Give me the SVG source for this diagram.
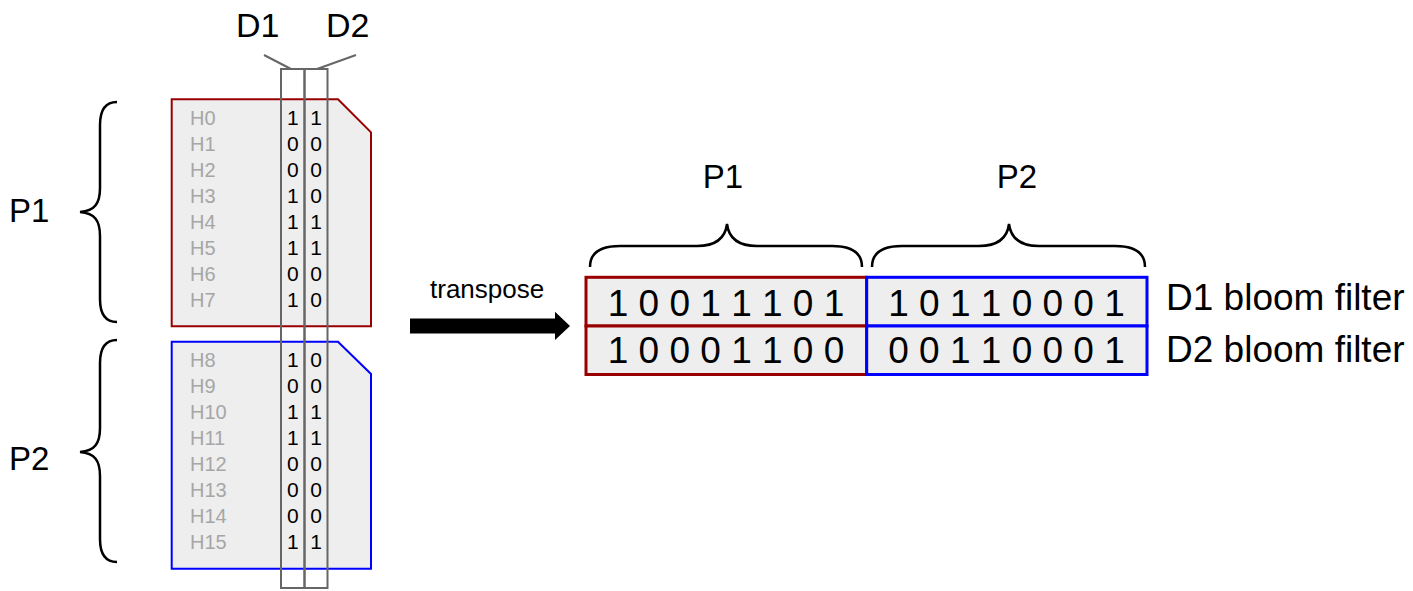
<svg xmlns="http://www.w3.org/2000/svg" width="1413" height="591" viewBox="0 0 1413 591">
<style>
text{font-family:"Liberation Sans",Arial,sans-serif;fill:#000}
.h{font-size:20px;fill:#a6a6a6}
.b{font-size:21px;text-anchor:middle}
.big{font-size:34px}
.mid{font-size:33px}
.bits{font-size:37px;text-anchor:middle}
.lab{font-size:37px}
.brace{fill:none;stroke:#000;stroke-width:2.5}
.col{fill:none;stroke:#666;stroke-width:2}
.lead{stroke:#666;stroke-width:2}
.red{fill:#eeeeee;stroke:#990000;stroke-width:2}
.blue{fill:#eeeeee;stroke:#0000ff;stroke-width:2}
.tred{fill:#eeeeee;stroke:#990000;stroke-width:3}
.tblue{fill:#eeeeee;stroke:#0000ff;stroke-width:3}
</style>
<rect width="1413" height="591" fill="#ffffff"/>

<g id="p1-block">
<polygon class="red" points="171.7,99.3 338,99.3 371,132.3 371,326.3 171.7,326.3"/>
<text class="h" x="190" y="125">H0</text>
<text class="h" x="190" y="151">H1</text>
<text class="h" x="190" y="177">H2</text>
<text class="h" x="190" y="203">H3</text>
<text class="h" x="190" y="229">H4</text>
<text class="h" x="190" y="255">H5</text>
<text class="h" x="190" y="281">H6</text>
<text class="h" x="190" y="307">H7</text>
</g>

<g id="p2-block">
<polygon class="blue" points="171.7,341.7 338,341.7 371,374 371,568.7 171.7,568.7"/>
<text class="h" x="190" y="367">H8</text>
<text class="h" x="190" y="393">H9</text>
<text class="h" x="190" y="419">H10</text>
<text class="h" x="190" y="445">H11</text>
<text class="h" x="190" y="471">H12</text>
<text class="h" x="190" y="497">H13</text>
<text class="h" x="190" y="523">H14</text>
<text class="h" x="190" y="549">H15</text>
</g>

<g id="d1-column">
<rect class="col" x="281" y="69" width="23.5" height="519"/>
<text class="b" x="292.8" y="125">1</text>
<text class="b" x="292.8" y="151">0</text>
<text class="b" x="292.8" y="177">0</text>
<text class="b" x="292.8" y="203">1</text>
<text class="b" x="292.8" y="229">1</text>
<text class="b" x="292.8" y="255">1</text>
<text class="b" x="292.8" y="281">0</text>
<text class="b" x="292.8" y="307">1</text>
<text class="b" x="292.8" y="367">1</text>
<text class="b" x="292.8" y="393">0</text>
<text class="b" x="292.8" y="419">1</text>
<text class="b" x="292.8" y="445">1</text>
<text class="b" x="292.8" y="471">0</text>
<text class="b" x="292.8" y="497">0</text>
<text class="b" x="292.8" y="523">0</text>
<text class="b" x="292.8" y="549">1</text>
</g>

<g id="d2-column">
<rect class="col" x="304.5" y="69" width="23" height="519"/>
<text class="b" x="316" y="125">1</text>
<text class="b" x="316" y="151">0</text>
<text class="b" x="316" y="177">0</text>
<text class="b" x="316" y="203">0</text>
<text class="b" x="316" y="229">1</text>
<text class="b" x="316" y="255">1</text>
<text class="b" x="316" y="281">0</text>
<text class="b" x="316" y="307">0</text>
<text class="b" x="316" y="367">0</text>
<text class="b" x="316" y="393">0</text>
<text class="b" x="316" y="419">1</text>
<text class="b" x="316" y="445">1</text>
<text class="b" x="316" y="471">0</text>
<text class="b" x="316" y="497">0</text>
<text class="b" x="316" y="523">0</text>
<text class="b" x="316" y="549">1</text>
</g>

<g id="labels-left">
<text class="big" x="236" y="37">D1</text>
<text class="big" x="326" y="37">D2</text>
<text class="mid" x="9" y="222">P1</text>
<text class="mid" x="9" y="470">P2</text>
<path class="brace" d="M117,102 C105,102 100,110 100,125 L100,188 C100,203 95,211 80,212 C95,213 100,221 100,236 L100,299 C100,314 105,322 117,322"/>
<path class="brace" d="M117,340 C105,340 100,348 100,363 L100,428 C100,443 95,451 80,452 C95,453 100,461 100,476 L100,539 C100,554 105,562 117,562"/>
</g>

<g id="connectors">
<line class="lead" x1="264" y1="55" x2="291" y2="69"/>
<line class="lead" x1="356" y1="55" x2="317" y2="69"/>
<polygon fill="#000" points="410,318.5 555,318.5 555,311.7 570,326 555,340 555,333.5 410,333.5"/>
<text x="430" y="298" style="font-size:26px">transpose</text>
</g>

<g id="table-p1">
<rect class="tred" x="586" y="277.3" width="280.7" height="48.7"/>
<rect class="tred" x="586" y="326" width="280.7" height="48.5"/>
<text class="bits" x="726" y="316" xml:space="preserve">1 0 0 1 1 1 0 1</text>
<text class="bits" x="726" y="363.3" xml:space="preserve">1 0 0 0 1 1 0 0</text>
<path class="brace" d="M590,267 C590,253 600,246 620,246 L697,246 C714,246 725,240 727,224 C729,240 740,246 757,246 L832,246 C852,246 862,253 862,267"/>
<text class="mid" x="723" y="188" text-anchor="middle">P1</text>
</g>

<g id="table-p2">
<rect class="tblue" x="866.7" y="277.3" width="280.3" height="48.7"/>
<rect class="tblue" x="866.7" y="326" width="280.3" height="48.5"/>
<text class="bits" x="1006.5" y="316" xml:space="preserve">1 0 1 1 0 0 0 1</text>
<text class="bits" x="1006.5" y="363.3" xml:space="preserve">0 0 1 1 0 0 0 1</text>
<path class="brace" d="M872,267 C872,253 882,246 902,246 L979,246 C996,246 1007,240 1009,224 C1011,240 1022,246 1039,246 L1115,246 C1135,246 1145,253 1145,267"/>
<text class="mid" x="1017" y="188" text-anchor="middle">P2</text>
</g>

<g id="row-labels">
<text class="lab" x="1166" y="310">D1 bloom filter</text>
<text class="lab" x="1166" y="362">D2 bloom filter</text>
</g>
</svg>
